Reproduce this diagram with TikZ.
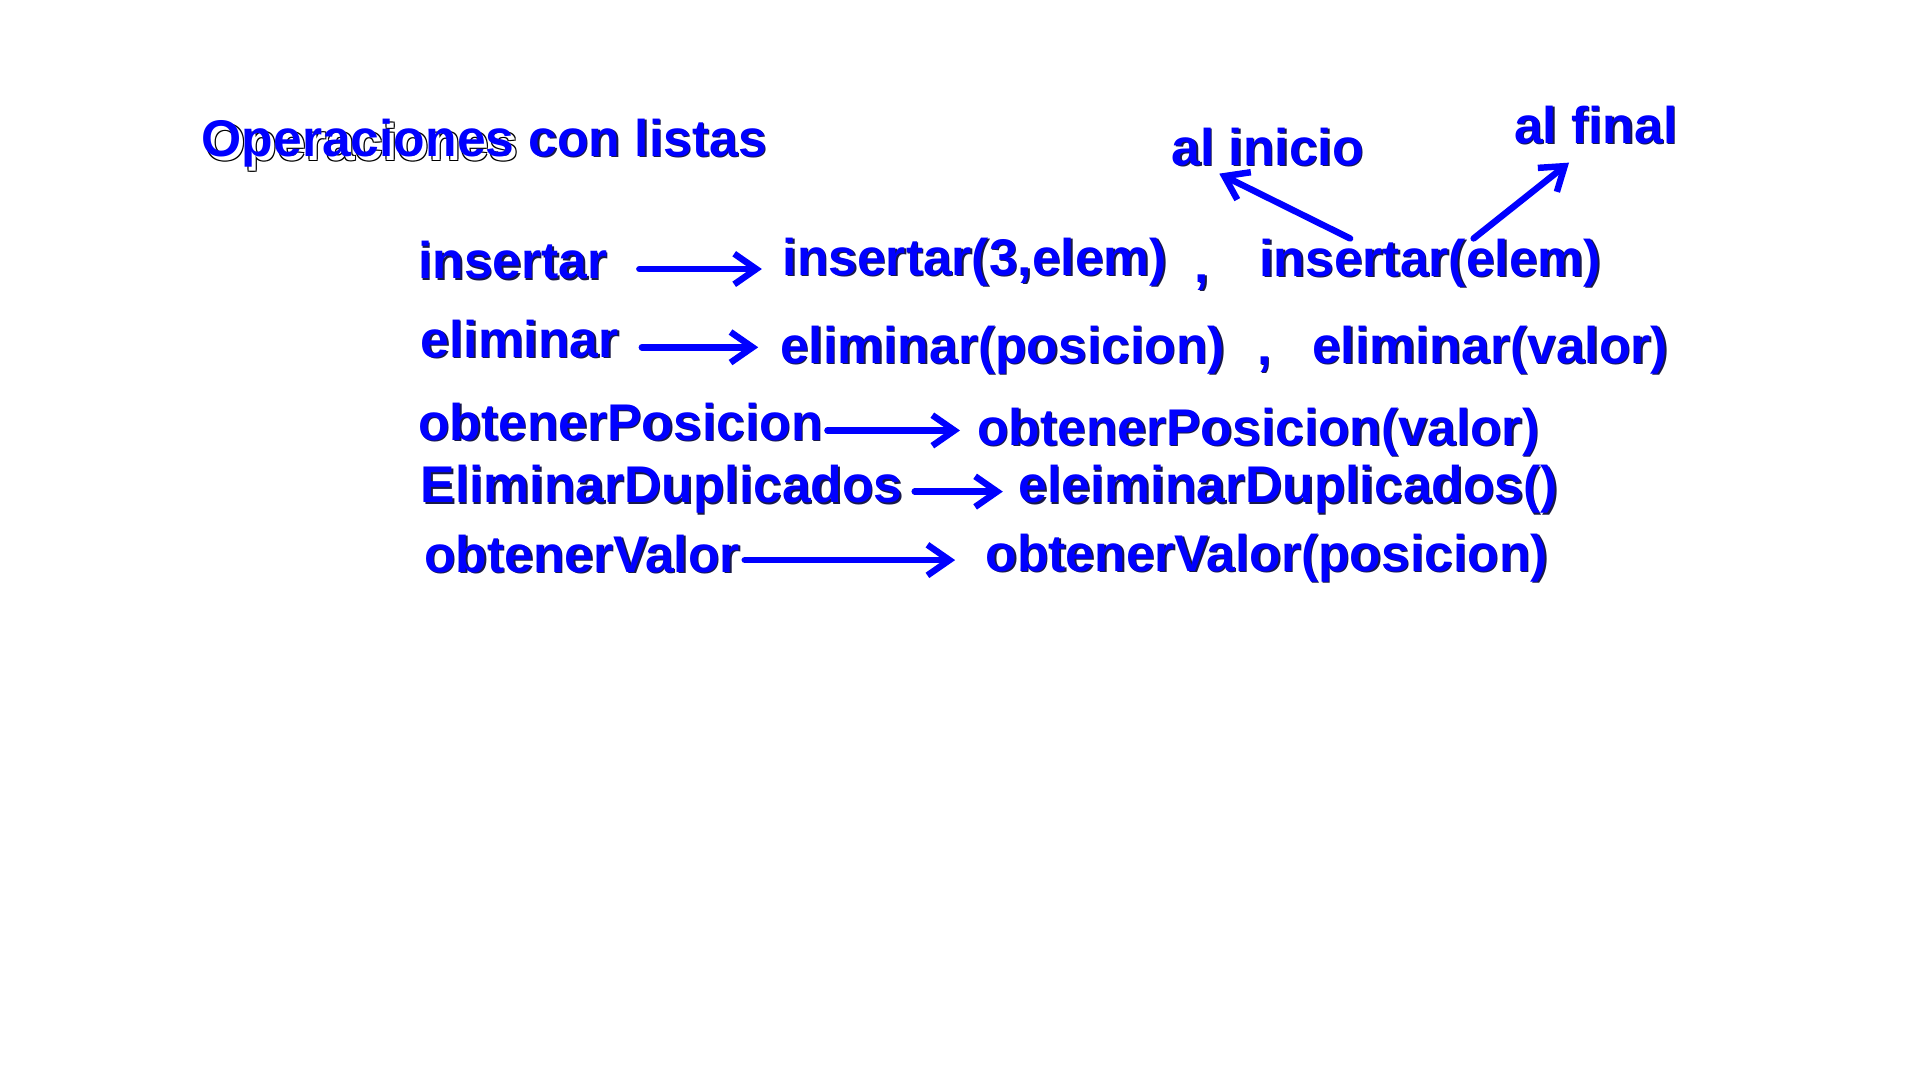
\documentclass[tikz,border=0pt]{standalone}
\usepackage{fontspec}
\setmainfont{Liberation Sans}
\usetikzlibrary{arrows.meta}
\definecolor{txtblue}{RGB}{0,0,255}
\definecolor{shadowc}{RGB}{25,25,70}
\newlength\ux
\setlength\ux{0.01cm}
\newcommand\shcopy[4]{\rlap{\kern#1\ux\raisebox{-#2\ux}{\color{#3}\relax#4}}}
\newcommand\shd[1]{\shcopy{1.2}{1.2}{shadowc}{#1}#1}
\newcommand\bigshd[1]{\shcopy{2.4}{2.4}{black}{#1}\shcopy{4.0}{4.0}{black}{#1}\shcopy{2.4}{4.0}{black}{#1}\shcopy{4.0}{2.4}{black}{#1}\shcopy{3.2}{3.2}{white}{#1}#1}
\tikzset{
  lbl/.style={inner sep=0pt, outer sep=0pt, anchor=base west, text=txtblue,
    font=\bfseries\fontsize{12}{14}\selectfont},
  arr/.style={draw=txtblue, line width=1.5pt, line cap=round,
    -{Straight Barb[length=1.8mm,width=2.5mm]}}
}
\begin{document}
\begin{tikzpicture}[x=0.01cm,y=-0.01cm]
\fill[white] (0,0) rectangle (1570,883);
\useasboundingbox (0,0) rectangle (1570,883);

\node[lbl] (title) at (165,128) {\bigshd{Operaciones}\ \shd{con listas}};

\node[lbl] (alinicio) at (958,135) {\shd{al inicio}};
\node[lbl] (alfinal) at (1238,117) {\shd{al final}};

\node[lbl] (ins) at (342,228) {\shd{insertar}};
\node[lbl] (insA) at (640,225) {\shd{insertar(3,elem)}};
\node[lbl] (comma1) at (977,231) {\shd{,}};
\node[lbl] (insB) at (1030,226) {\shd{insertar(elem)}};

\node[lbl] (elim) at (344,292) {\shd{eliminar}};
\node[lbl] (elimA) at (638,297) {\shd{eliminar(posicion)}};
\node[lbl] (comma2) at (1028,298) {\shd{,}};
\node[lbl] (elimB) at (1073,297) {\shd{eliminar(valor)}};

\node[lbl] (obtP) at (342,360) {\shd{obtenerPosicion}};
\node[lbl] (obtPA) at (799,364) {\shd{obtenerPosicion(valor)}};

\node[lbl] (elD) at (344,411) {\shd{EliminarDuplicados}};
\node[lbl] (elDA) at (833,411) {\shd{eleiminarDuplicados()}};

\node[lbl] (obtV) at (347,468) {\shd{obtenerValor}};
\node[lbl] (obtVA) at (806,467) {\shd{obtenerValor(posicion)}};

\draw[arr] ([shift={(26,-8)}]ins.base east) -- ([shift={(-17,-5)}]insA.base west);
\draw[arr] ([shift={(19,-8)}]elim.base east) -- ([shift={(-18,-13)}]elimA.base west);
\draw[arr] ([shift={(4,-8)}]obtP.base east) -- ([shift={(-14,-12)}]obtPA.base west);
\draw[arr] ([shift={(10,-9)}]elD.base east) -- ([shift={(-13,-9)}]elDA.base west);
\draw[arr] ([shift={(4,-10)}]obtV.base east) -- ([shift={(-25,-9)}]obtVA.base west);

\draw[arr] ([shift={(74,-31)}]insB.base west) -- ([shift={(39,7)}]alinicio.base west);
\draw[arr] ([shift={(175,-31)}]insB.base west) -- ([shift={(45,16)}]alfinal.base west);
\end{tikzpicture}
\end{document}
